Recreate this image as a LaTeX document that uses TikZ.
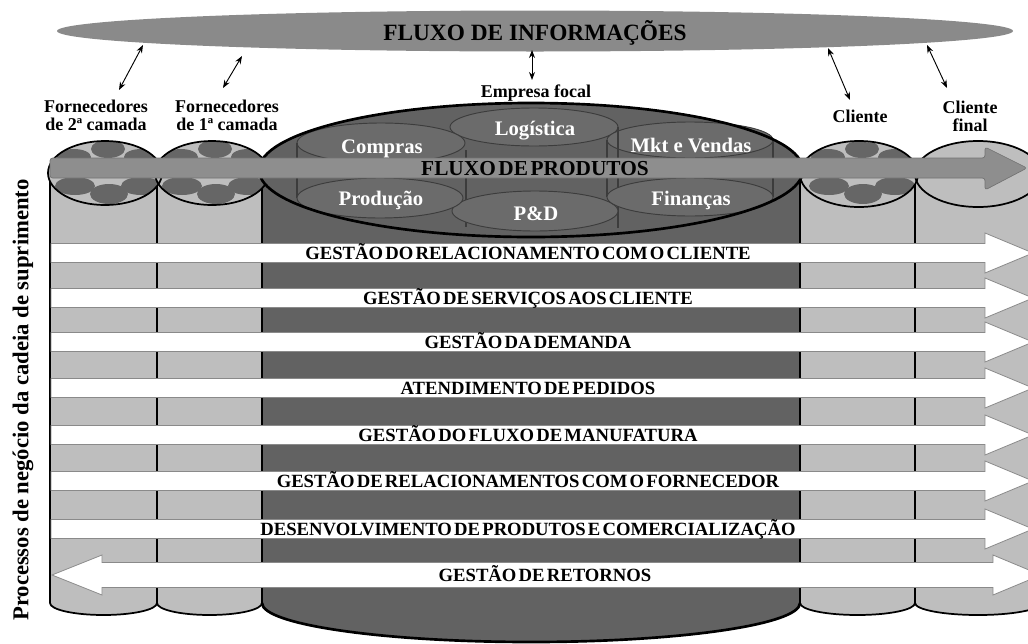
\documentclass[tikz,border=0pt]{standalone}
\usepackage{fontspec}
\setmainfont{Liberation Serif}
\usetikzlibrary{arrows.meta}

\definecolor{lightcyl}{HTML}{BEBEBE}
\definecolor{focalgray}{HTML}{626262}
\definecolor{deptgray}{HTML}{6B6B6B}
\definecolor{deptedge}{HTML}{3C3C3C}
\definecolor{flowgray}{HTML}{8E8E8E}
\definecolor{infogray}{HTML}{8A8A8A}
\definecolor{bandedge}{HTML}{8A8A8A}
\definecolor{spotgray}{HTML}{666666}

\begin{document}
\begin{tikzpicture}[x=0.75pt,y=-0.75pt,
  every node/.style={inner sep=0pt},
  toplabel/.style={font=\bfseries\fontsize{13.5}{13.5}\selectfont, align=center},
  deptlabel/.style={font=\bfseries\fontsize{15.5}{15.5}\selectfont, text=white},
  proclabel/.style={font={\bfseries\fontsize{14}{14}\selectfont\spaceskip=0.12em\relax}},
  procband/.style={fill=white, draw=bandedge, line width=0.6pt},
  infoarrow/.style={{Stealth[length=6pt,width=4.5pt]}-{Stealth[length=6pt,width=4.5pt]}, line width=0.7pt},
  cylline/.style={line width=1.3pt},
  deptshape/.style={fill=deptgray, draw=deptedge, line width=0.7pt},
  spot/.style={fill=spotgray},
]
\useasboundingbox (0,0) rectangle (1028,643);
\clip (0,0) rectangle (1028,643);

% ---------- information flow ----------
\fill[infogray] (535,31) ellipse [x radius=478, y radius=20.5];
\node[font=\bfseries\fontsize{17.5}{17.5}\selectfont, anchor=base] (info) at (535,40) {FLUXO DE INFORMAÇÕES};

% ---------- cylinder bodies ----------
\fill[lightcyl] (50,173) -- (50,603) arc[start angle=180,end angle=0,x radius=53.5,y radius=12] -- (157,173) -- cycle;
\fill[lightcyl] (157,173) -- (157,603) arc[start angle=180,end angle=0,x radius=52.5,y radius=12] -- (262,173) -- cycle;
\fill[lightcyl] (800,174) -- (800,603) arc[start angle=180,end angle=0,x radius=57.5,y radius=12] -- (915,174) -- cycle;
\fill[lightcyl] (915,174) -- (915,603) arc[start angle=180,end angle=0,x radius=63,y radius=12] -- (1041,174) -- cycle;
\fill[focalgray] (262,170) -- (262,603) arc[start angle=180,end angle=0,x radius=269,y radius=39] -- (800,170) -- cycle;

% cylinder edges and bottoms
\draw[cylline] (50,173) -- (50,603) arc[start angle=180,end angle=0,x radius=53.5,y radius=12];
\draw[cylline] (157,173) -- (157,603) arc[start angle=180,end angle=0,x radius=52.5,y radius=12];
\draw[cylline] (262,170) -- (262,603);
\draw[line width=2pt] (262,603) arc[start angle=180,end angle=0,x radius=269,y radius=39];
\draw[cylline] (800,170) -- (800,603) arc[start angle=180,end angle=0,x radius=57.5,y radius=12];
\draw[cylline] (915,174) -- (915,603) arc[start angle=180,end angle=0,x radius=63,y radius=12];

% ---------- tops of supplier and customer cylinders ----------
\fill[lightcyl] (105,173) ellipse [x radius=57, y radius=32];
\fill[lightcyl] (212,173) ellipse [x radius=57, y radius=32];
\fill[lightcyl] (859,174) ellipse [x radius=59, y radius=33];
\fill[lightcyl] (978,174) ellipse [x radius=63, y radius=33];
\foreach \cx/\cy/\rx in {105/173/57, 212/173/57, 859/174/59} {
  \begin{scope}
    \clip (\cx,\cy) ellipse [x radius=\rx, y radius=32];
    \fill[spot] (\cx+3,149) ellipse [x radius=17, y radius=9];
    \fill[spot] (\cx-31,157) ellipse [x radius=17, y radius=8];
    \fill[spot] (\cx+36,157) ellipse [x radius=17, y radius=8];
    \fill[spot] (\cx-30,186) ellipse [x radius=20, y radius=9];
    \fill[spot] (\cx+36,186) ellipse [x radius=20, y radius=9];
    \fill[spot] (\cx+4,194) ellipse [x radius=19, y radius=10];
  \end{scope}
}
\draw[cylline] (105,173) ellipse [x radius=57, y radius=32];
\draw[cylline] (212,173) ellipse [x radius=57, y radius=32];
\draw[cylline] (859,174) ellipse [x radius=59, y radius=33];
\draw[cylline] (978,174) ellipse [x radius=63, y radius=33];

% ---------- top of the focal company ----------
\fill[focalgray] (531,170) ellipse [x radius=272, y radius=67];
\draw[deptshape] (534,127) ellipse [x radius=84, y radius=19];
\draw[deptshape] (381,143) ellipse [x radius=84, y radius=20];
\draw[deptshape] (690,140) ellipse [x radius=83, y radius=18];
\draw[deptedge, line width=0.8pt] (297,143) -- (297,198);
\draw[deptedge, line width=0.8pt] (466,150) -- (466,227);
\draw[deptedge, line width=0.8pt] (618,127) -- (618,228);
\draw[deptedge, line width=0.8pt] (607,140) -- (607,197);
\draw[deptedge, line width=0.8pt] (773,140) -- (773,197);
\draw[deptshape] (535,211) ellipse [x radius=83, y radius=20];
\draw[deptshape] (380,198) ellipse [x radius=83, y radius=20];
\draw[deptshape] (690,197) ellipse [x radius=83, y radius=19];
\draw[line width=2pt] (531,170) ellipse [x radius=272, y radius=67];

% ---------- product flow ----------
\draw[fill=flowgray, draw=flowgray!80!black, line width=0.5pt, rounded corners=2pt]
  (50,158) -- (985,158) -- (985,147) -- (1027,168) -- (985,190) -- (985,178) -- (50,178) -- cycle;

% ---------- business process bands ----------
\foreach \c in {253,298,342,388,435,481,529} {
  \draw[procband] (51,\c-9.5) -- (985,\c-9.5) -- (985,\c-20) -- (1033,\c) -- (985,\c+20)
    -- (985,\c+9.5) -- (51,\c+9.5) -- cycle;
}
\draw[procband] (52,575) -- (102,555) -- (102,562.5) -- (993,562.5) -- (993,555) -- (1041,575)
  -- (993,595) -- (993,587.5) -- (102,587.5) -- (102,595) -- cycle;

% ---------- texts ----------
\node[deptlabel, anchor=base] (compras) at (382,153) {Compras};
\node[deptlabel, anchor=base] (logistica) at (535,135) {Logística};
\node[deptlabel, anchor=base] (mkt) at (691,152) {Mkt e Vendas};
\node[deptlabel, anchor=base] (producao) at (381,205) {Produção};
\node[deptlabel, anchor=base] (ped) at (536,220) {P\&D};
\node[deptlabel, anchor=base] (financas) at (691,205) {Finanças};
\node[font={\bfseries\fontsize{16}{16}\selectfont\spaceskip=0.12em\relax}, anchor=base] (produtos) at (535,175) {FLUXO DE PRODUTOS};

\foreach \c/\t/\n in {253/{GESTÃO DO RELACIONAMENTO COM O CLIENTE}/p1,
                      298/{GESTÃO DE SERVIÇOS AOS CLIENTE}/p2,
                      342/{GESTÃO DA DEMANDA}/p3,
                      388/{ATENDIMENTO DE PEDIDOS}/p4,
                      435/{GESTÃO DO FLUXO DE MANUFATURA}/p5,
                      481/{GESTÃO DE RELACIONAMENTOS COM O FORNECEDOR}/p6,
                      529/{DESENVOLVIMENTO DE PRODUTOS E COMERCIALIZAÇÃO}/p7} {
  \node[proclabel, anchor=base] (\n) at (528,\c+6) {\t};
}
\node[proclabel, anchor=base] (p8) at (545,581) {GESTÃO DE RETORNOS};

\node[font=\bfseries\fontsize{17}{17}\selectfont, rotate=90] (side) at (23,400)
  {Processos de negócio da cadeia de suprimento};

% tier labels
\node[toplabel, anchor=north] (sup2) at (96,100) {Fornecedores\\de 2ª camada};
\node[toplabel, anchor=north] (sup1) at (227,100) {Fornecedores\\de 1ª camada};
\node[toplabel, anchor=base] (focal) at (536,97) {Empresa focal};
\node[toplabel, anchor=base] (cli) at (860,122) {Cliente};
\node[toplabel, anchor=north] (clifinal) at (970,101) {Cliente\\final};

% links between the information flow and each tier
\coordinate (i2) at (143,45);  \coordinate (t2) at (119,90);
\coordinate (i1) at (242,56);  \coordinate (t1) at (223,88);
\coordinate (if) at (532,50);  \coordinate (tf) at (532,80);
\coordinate (ic) at (828,48);  \coordinate (tc) at (850,100);
\coordinate (ie) at (927,45);  \coordinate (te) at (947,88);
\draw[infoarrow] (i2) -- (t2);
\draw[infoarrow] (i1) -- (t1);
\draw[infoarrow] (if) -- (tf);
\draw[infoarrow] (ic) -- (tc);
\draw[infoarrow] (ie) -- (te);
\end{tikzpicture}
\end{document}
